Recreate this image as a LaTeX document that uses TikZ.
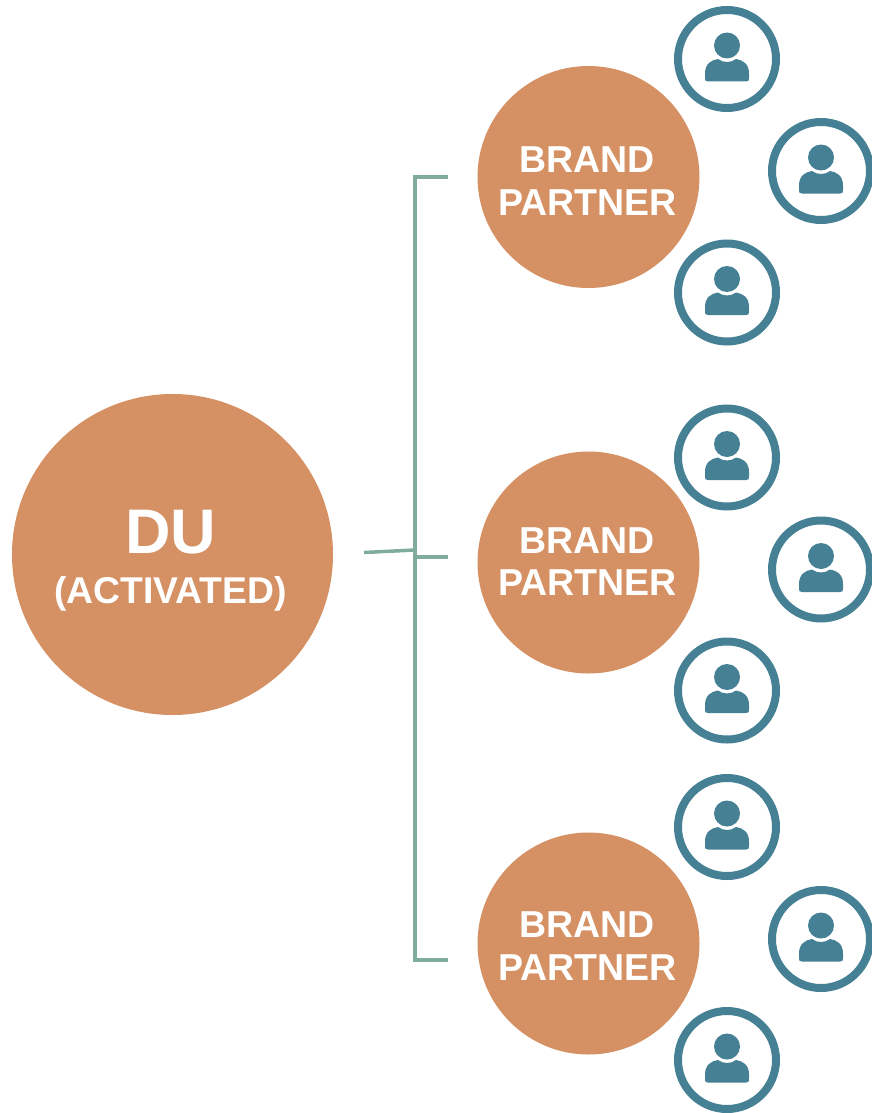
\documentclass[tikz,border=0pt]{standalone}
\usepackage{fontspec}
\setmainfont{Liberation Sans}
\definecolor{orangeC}{HTML}{D59163}
\definecolor{tealC}{HTML}{468094}
\definecolor{lineC}{HTML}{7FAC9E}
\tikzset{
  hub/.style={circle,fill=orangeC,draw=none,inner sep=0pt,text=white,font=\bfseries},
  partner/.style={hub,minimum size=222pt},
  ring/.style={circle,draw=tealC,line width=8pt,fill=white,minimum size=98pt,inner sep=0pt},
  lbl/.style={text=white,font=\bfseries,inner sep=0pt,anchor=base},
  bracket/.style={draw=lineC,line width=3.5pt},
  person/.pic={
    \fill[tealC] (0,-13.5) circle (13);
    \fill[tealC] (-19,22.5) .. controls (-22,22.5) and (-22,21.5) .. (-22,18.5)
      -- (-22,14.5) .. controls (-22,5) and (-16,1) .. (-9,0)
      .. controls (-4,4) and (4,4) .. (9,0)
      .. controls (16,1) and (22,5) .. (22,14.5)
      -- (22,18.5) .. controls (22,21.5) and (22,22.5) .. (19,22.5) -- cycle;
  }
}
\begin{document}
\begin{tikzpicture}[x=1pt,y=-1pt]
\useasboundingbox (0,0) rectangle (871,1113);
\node[hub,minimum size=321pt] (du) at (172.5,554.5) {};
\node[lbl,font=\bfseries\fontsize{63}{63}\selectfont] (dut) at (170.5,553) {DU};
\node[lbl,font=\bfseries\fontsize{37.3}{37.3}\selectfont] (dua) at (170.5,603) {(ACTIVATED)};
\foreach \n/\y/\ya/\yb in {a/177/172/215, b/562.5/553/595.5, c/943.5/937.5/980.5}{
  \node[partner] (bp\n) at (588.5,\y) {};
  \node[lbl,font=\bfseries\fontsize{37.5}{37.5}\selectfont] (bp\n1) at (587,\ya) {BRAND};
  \node[lbl,font=\bfseries\fontsize{37.5}{37.5}\selectfont] (bp\n2) at (587.5,\yb) {PARTNER};
}
\foreach \n/\x/\y in {r1/727/59,r2/821/171,r3/727/292.5,r4/727/457.5,r5/821/569.5,r6/727/690.5,r7/727/827,r8/821/939,r9/727/1060}{
  \node[ring] (\n) at (\x,\y) {};
  \pic at (\n.center) {person};
}
\coordinate (top) at (447.5,177);
\coordinate (topc) at (415,177);
\coordinate (bot) at (447.5,960);
\coordinate (botc) at (415,960);
\coordinate (mid) at (447.5,557);
\coordinate (midc) at (415,557);
\coordinate (ins) at (364,552.5);
\coordinate (inse) at (415,550);
\draw[bracket,line join=miter] (top) -- (topc) -- (botc) -- (bot);
\draw[bracket] (midc) -- (mid);
\draw[bracket] (ins) -- (inse);
\end{tikzpicture}
\end{document}
